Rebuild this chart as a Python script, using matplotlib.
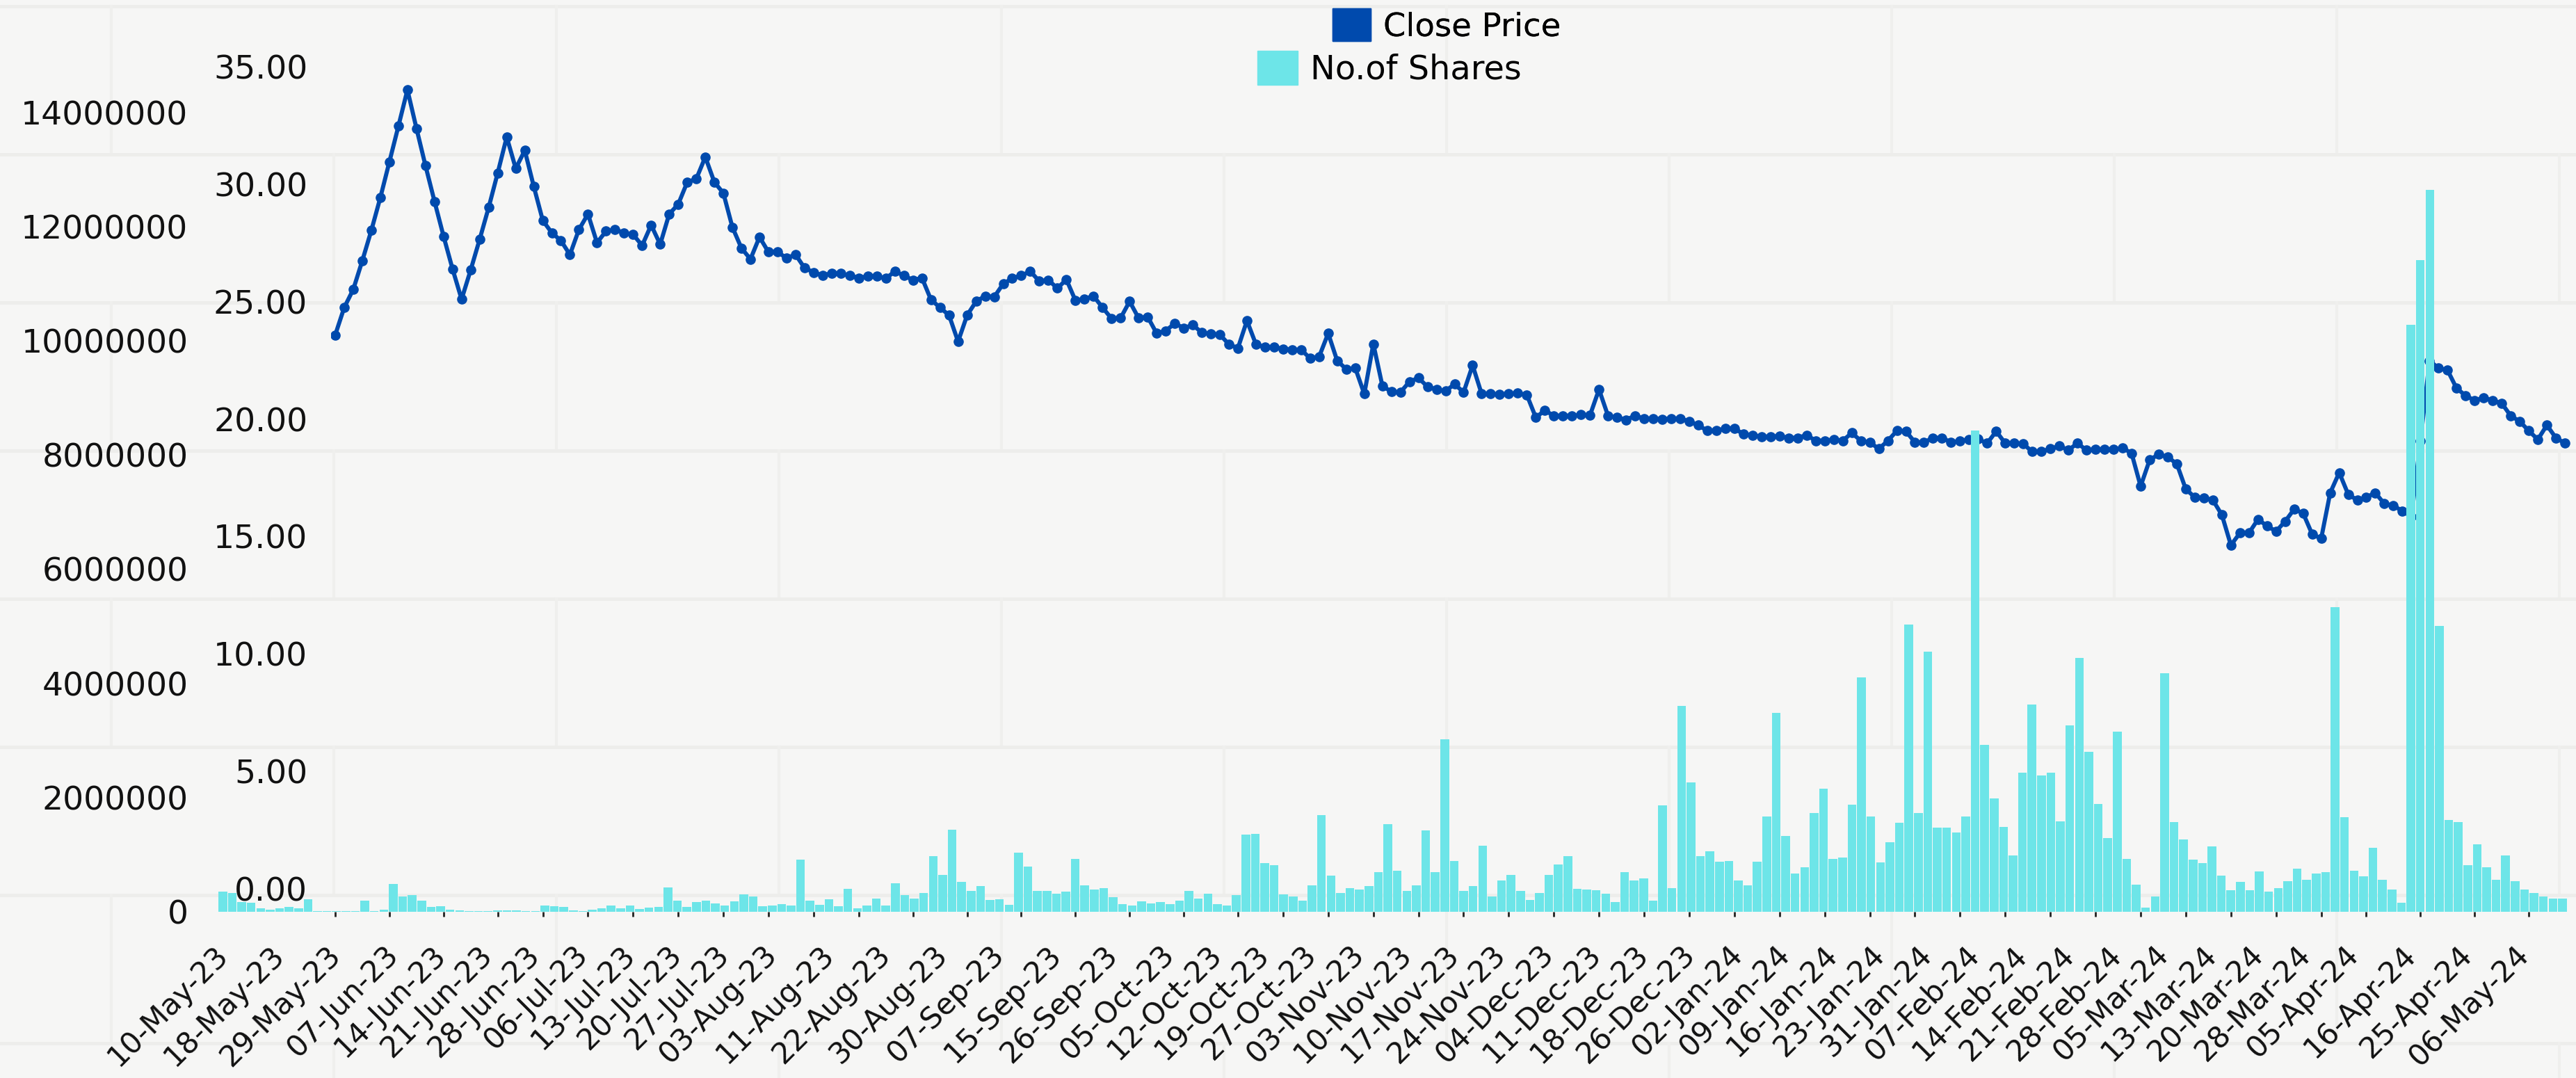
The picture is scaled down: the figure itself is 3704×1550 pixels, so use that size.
import numpy as np
import pandas as pd
import matplotlib
matplotlib.use("Agg")
import matplotlib.pyplot as plt
from matplotlib.patches import Patch
from matplotlib.ticker import FormatStrFormatter

W, H, DPI = 3704, 1550, 100

# trading calendar of the scrip (NSE holidays, weekend sessions, days with no record)
holidays = ['2023-06-29', '2023-08-15', '2023-09-19', '2023-10-02', '2023-10-24',
            '2023-11-14', '2023-11-27', '2023-12-25', '2024-01-22', '2024-01-26',
            '2024-03-08', '2024-03-25', '2024-03-29', '2024-04-11', '2024-04-17',
            '2024-05-01']
no_record = ['2023-05-24', '2023-06-02']
special_sessions = ['2023-11-12', '2024-01-20', '2024-03-02']

days = pd.bdate_range('2023-05-10', '2024-05-10')
days = days.drop(pd.to_datetime(holidays + no_record))
days = days.append(pd.to_datetime(special_sessions)).sort_values()
dates = [d.strftime('%d-%b-%y') for d in days]

shown_labels = ['10-May-23', '18-May-23', '29-May-23', '07-Jun-23', '14-Jun-23', '21-Jun-23',
                '28-Jun-23', '06-Jul-23', '13-Jul-23', '20-Jul-23', '27-Jul-23', '03-Aug-23',
                '11-Aug-23', '22-Aug-23', '30-Aug-23', '07-Sep-23', '15-Sep-23', '26-Sep-23',
                '05-Oct-23', '12-Oct-23', '19-Oct-23', '27-Oct-23', '03-Nov-23', '10-Nov-23',
                '17-Nov-23', '24-Nov-23', '04-Dec-23', '11-Dec-23', '18-Dec-23', '26-Dec-23',
                '02-Jan-24', '09-Jan-24', '16-Jan-24', '23-Jan-24', '31-Jan-24', '07-Feb-24',
                '14-Feb-24', '21-Feb-24', '28-Feb-24', '05-Mar-24', '13-Mar-24', '20-Mar-24',
                '28-Mar-24', '05-Apr-24', '16-Apr-24', '25-Apr-24', '06-May-24']

close_price = [
    23.58, 24.75, 25.52, 26.74, 28.03, 29.43, 30.95, 32.47, 34.02, 32.38,
    30.79, 29.27, 27.79, 26.39, 25.10, 26.34, 27.65, 29.01, 30.48, 32.01,
    30.67, 31.44, 29.90, 28.45, 27.93, 27.60, 27.00, 28.07, 28.73, 27.51,
    28.00, 28.07, 27.93, 27.86, 27.39, 28.26, 27.44, 28.73, 29.15, 30.09,
    30.23, 31.16, 30.09, 29.62, 28.17, 27.28, 26.81, 27.75, 27.11, 27.11,
    26.86, 27.00, 26.43, 26.25, 26.11, 26.22, 26.20, 26.11, 26.01, 26.08,
    26.08, 25.99, 26.29, 26.11, 25.92, 26.01, 25.08, 24.75, 24.42, 23.30,
    24.42, 25.01, 25.24, 25.20, 25.76, 25.99, 26.11, 26.29, 25.87, 25.92,
    25.57, 25.94, 25.05, 25.12, 25.24, 24.75, 24.28, 24.30, 25.01, 24.30,
    24.35, 23.65, 23.76, 24.07, 23.88, 24.00, 23.69, 23.62, 23.60, 23.18,
    23.02, 24.19, 23.18, 23.06, 23.06, 22.99, 22.95, 22.95, 22.59, 22.66,
    23.65, 22.48, 22.13, 22.17, 21.07, 23.20, 21.42, 21.16, 21.14, 21.59,
    21.75, 21.38, 21.26, 21.19, 21.49, 21.14, 22.29, 21.07, 21.07, 21.05,
    21.07, 21.10, 21.03, 20.07, 20.37, 20.14, 20.14, 20.14, 20.18, 20.16,
    21.26, 20.14, 20.07, 19.97, 20.14, 20.02, 20.02, 20.00, 20.02, 20.02,
    19.90, 19.74, 19.50, 19.50, 19.60, 19.60, 19.36, 19.32, 19.25, 19.25,
    19.27, 19.20, 19.20, 19.32, 19.08, 19.08, 19.13, 19.08, 19.41, 19.08,
    19.01, 18.73, 19.08, 19.50, 19.48, 19.01, 19.01, 19.20, 19.20, 19.01,
    19.08, 19.13, 19.15, 18.97, 19.48, 18.97, 18.97, 18.94, 18.61, 18.61,
    18.73, 18.85, 18.68, 18.97, 18.68, 18.71, 18.71, 18.71, 18.78, 18.54,
    17.14, 18.26, 18.50, 18.38, 18.10, 17.02, 16.67, 16.65, 16.55, 15.92,
    14.63, 15.15, 15.15, 15.73, 15.45, 15.22, 15.64, 16.16, 15.99, 15.10,
    14.91, 16.86, 17.72, 16.79, 16.55, 16.67, 16.86, 16.39, 16.32, 16.08,
    15.85, 19.08, 22.48, 22.17, 22.08, 21.31, 21.00, 20.79, 20.91, 20.79,
    20.67, 20.14, 19.90, 19.50, 19.13, 19.74, 19.20, 18.97,
]

no_of_shares = [
    355000, 333000, 175000, 160000, 62000, 35000, 62000, 90000, 56000, 224000,
    15000, 12000, 15000, 12000, 12000, 192000, 12000, 40000, 488000, 274000,
    290000, 193000, 90000, 97000, 38000, 27000, 12000, 12000, 12000, 24000,
    28000, 20000, 10000, 12000, 110000, 97000, 90000, 28000, 8000, 40000,
    60000, 110000, 65000, 105000, 45000, 70000, 85000, 430000, 195000, 85000,
    168000, 195000, 147000, 115000, 183000, 308000, 273000, 100000, 112000, 134000,
    105000, 918000, 195000, 120000, 222000, 100000, 407000, 55000, 107000, 228000,
    105000, 505000, 290000, 237000, 326000, 978000, 640000, 1440000, 520000, 370000,
    450000, 210000, 220000, 125000, 1040000, 790000, 370000, 370000, 320000, 350000,
    920000, 460000, 390000, 420000, 250000, 135000, 105000, 180000, 150000, 170000,
    140000, 200000, 360000, 230000, 320000, 135000, 105000, 290000, 1350000, 1370000,
    850000, 820000, 310000, 270000, 190000, 460000, 1690000, 630000, 330000, 410000,
    385000, 450000, 690000, 1540000, 720000, 370000, 460000, 1420000, 690000, 3020000,
    885000, 370000, 450000, 1155000, 270000, 550000, 645000, 360000, 210000, 330000,
    645000, 830000, 970000, 400000, 390000, 375000, 320000, 170000, 690000, 550000,
    590000, 200000, 1860000, 420000, 3600000, 2270000, 980000, 1060000, 875000, 885000,
    550000, 460000, 875000, 1665000, 3480000, 1330000, 670000, 780000, 1730000, 2160000,
    930000, 950000, 1870000, 4110000, 1665000, 870000, 1220000, 1560000, 5030000, 1730000,
    4550000, 1470000, 1470000, 1390000, 1665000, 8430000, 2920000, 1980000, 1490000, 990000,
    2435000, 3630000, 2390000, 2435000, 1580000, 3270000, 4440000, 2800000, 1890000, 1290000,
    3160000, 920000, 470000, 70000, 270000, 4180000, 1570000, 1270000, 915000, 857000,
    1145000, 635000, 375000, 520000, 375000, 710000, 356000, 414000, 540000, 760000,
    560000, 674000, 690000, 5330000, 1655000, 720000, 616000, 1126000, 560000, 385000,
    154000, 10280000, 11410000, 12640000, 5010000, 1610000, 1570000, 820000, 1180000, 780000,
    560000, 990000, 530000, 390000, 330000, 270000, 230000, 230000,
]

price_color = '#004aad'
shares_color = '#6de5e8'
text_color = '#111111'

n = len(dates)
x = np.arange(n)
tick_idx = [dates.index(lbl) for lbl in shown_labels]

fig = plt.figure(figsize=(W / DPI, H / DPI), dpi=DPI)
fig.patch.set_facecolor('#f6f6f5')

# very faint painted-brick backdrop
bg = fig.add_axes([0, 0, 1, 1], zorder=-10)
bg.set_xlim(0, W)
bg.set_ylim(H, 0)
bg.axis('off')
row_h, brick_w = 213, 640
for r, y0 in enumerate(range(9, H, row_h)):
    bg.axhline(y0, color='#ededeb', lw=3.5)
    off = 160 if r % 2 == 0 else 480
    for xj in range(off, W, brick_w):
        bg.plot([xj, xj], [y0, y0 + row_h], color='#efefed', lw=3)

bottom_px, top_px = 1311, 79.5
rect_y = (H - bottom_px) / H
rect_h = (bottom_px - top_px) / H
line_left, line_pitch = 475.5, 12.98
bar_left, bar_pitch = 313.5, 13.62

# close price (drawn underneath the bars)
ax_line = fig.add_axes([line_left / W, rect_y, n * line_pitch / W, rect_h])
ax_line.plot(x, close_price, color=price_color, lw=4.3, marker='o', ms=9.5)
ax_line.set_xlim(-0.5, n - 0.5)
ax_line.set_ylim(-0.98, 35.49)
ax_line.set_xticks(tick_idx)
ax_line.tick_params(axis='x', labelbottom=False, length=5, width=2, direction='out', color='#222222')
ax_line.set_yticks([])
ax_line.set_facecolor('none')
for s in ax_line.spines.values():
    s.set_visible(False)

# no. of shares
ax_bar = fig.add_axes([bar_left / W, rect_y, n * bar_pitch / W, rect_h])
ax_bar.bar(x, no_of_shares, width=0.92, color=shares_color)
ax_bar.set_xlim(-0.5, n - 0.5)
ax_bar.set_ylim(0, 15e6)
ax_bar.set_yticks(np.arange(0, 14e6 + 1, 2e6))
ax_bar.yaxis.set_major_formatter(FormatStrFormatter('%d'))
ax_bar.tick_params(axis='y', length=0, pad=31, labelsize=34, labelcolor=text_color)
ax_bar.set_xticks(tick_idx)
ax_bar.set_xticklabels(shown_labels, rotation=45, ha='right', va='center',
                       rotation_mode='anchor')
ax_bar.tick_params(axis='x', length=0, pad=40, labelsize=30.5, labelcolor=text_color)
ax_bar.set_facecolor('none')
for s in ax_bar.spines.values():
    s.set_visible(False)

# price scale labels, on top of the bars
ax_price = fig.add_axes([line_left / W, rect_y, n * line_pitch / W, rect_h])
ax_price.set_ylim(-0.98, 35.49)
ax_price.set_yticks(np.arange(0, 36, 5))
ax_price.yaxis.set_major_formatter(FormatStrFormatter('%.2f'))
ax_price.tick_params(axis='y', length=0, pad=24, labelsize=34, labelcolor=text_color)
ax_price.set_xticks([])
ax_price.set_facecolor('none')
for s in ax_price.spines.values():
    s.set_visible(False)

leg1 = fig.legend(handles=[Patch(color=price_color, label='Close Price')],
                  loc='upper left', bbox_to_anchor=(1916 / W, 1 - 12 / H),
                  frameon=False, fontsize=33.5, handlelength=1.18, handleheight=1.18,
                  handletextpad=0.38, borderpad=0, borderaxespad=0)
fig.legend(handles=[Patch(color=shares_color, label='No.of Shares')],
           loc='upper left', bbox_to_anchor=(1808 / W, 1 - 73 / H),
           frameon=False, fontsize=34.5, handlelength=1.2, handleheight=1.2,
           handletextpad=0.38, borderpad=0, borderaxespad=0)
fig.add_artist(leg1)

fig.savefig('out.png', dpi=DPI, facecolor=fig.get_facecolor())
